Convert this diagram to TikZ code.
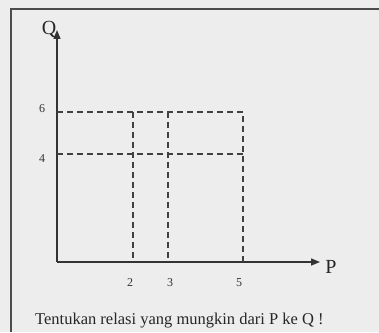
\documentclass[tikz,border=0pt]{standalone}
\usepackage{fontspec}
\setmainfont{Liberation Serif}
\usetikzlibrary{arrows.meta,positioning}

\begin{document}
\begin{tikzpicture}[x=1pt,y=1pt,>={Triangle[length=9pt,width=7pt]},
                    axis/.style={->,line width=1.4pt,draw=black!80},
                    guide/.style={dash pattern=on 6pt off 4pt,line width=1.3pt,draw=black!75},
                    tick label/.style={font=\fontsize{12}{14}\selectfont,text=black!80}]

\fill[black!7] (0,0) rectangle (379,332);
\useasboundingbox (0,0) rectangle (379,332);
\draw[line width=1.2pt,black!70] (11,0) -- (11,323) -- (379,323);

% axes
\coordinate (O) at (57,70);
\coordinate (Xend) at (320,70);
\coordinate (Yend) at (57,302);
\draw[axis] (O) -- (Xend);
\draw[axis] (O) -- (Yend);
\node[font=\fontsize{20}{22}\selectfont,text=black!85] (P) at (331,65) {P};
\node[font=\fontsize{20}{22}\selectfont,text=black!85] (Q) at (49,302) {Q};

% guide points
\coordinate (q6) at (57,220);
\coordinate (q4) at (57,178);
\coordinate (p2) at (133,70);
\coordinate (p3) at (168,70);
\coordinate (p5) at (243,70);
\coordinate (p2q6) at (133,220);
\coordinate (p3q6) at (168,220);
\coordinate (p5q6) at (243,220);
\coordinate (p5q4) at (243,178);

\draw[guide] (q6) -- (p5q6) -- (p5);
\draw[guide] (q4) -- (p5q4);
\draw[guide] (p2q6) -- (p2);
\draw[guide] (p3q6) -- (p3);

% tick labels
\node[tick label] (l6) at (42,223) {6};
\node[tick label] (l4) at (42,173) {4};
\node[tick label] (l2) at (130,49) {2};
\node[tick label] (l3) at (170,49) {3};
\node[tick label] (l5) at (239,49) {5};

\node[anchor=west,inner sep=0pt,font=\fontsize{16.5}{18}\selectfont,text=black!85] (task) at (35,11)
  {Tentukan relasi yang mungkin dari P ke Q !};

\end{tikzpicture}
\end{document}
